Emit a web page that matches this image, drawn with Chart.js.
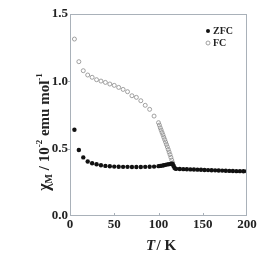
<!DOCTYPE html>
<html><head><meta charset="utf-8">
<script src="https://cdn.jsdelivr.net/npm/chart.js@4.4.0/dist/chart.umd.min.js"></script>
<style>html,body{margin:0;padding:0;background:#fff}#wrap{width:273px;height:259px}</style>
</head><body><div id="wrap"><canvas id="c" width="273" height="259"></canvas></div>
<script>
const zfcT = [5,10,15,20,25,30,35,40,45,50,55,60,65,70,75,80,85,90,95,100,102,104,106,108,110,112,114,115,116,117,118,119,120,124,128,132,136,140,144,148,152,156,160,164,168,172,176,180,184,188,192,196,200];
const zfcV = [0.64,0.49,0.435,0.405,0.392,0.384,0.377,0.372,0.369,0.367,0.366,0.365,0.365,0.364,0.364,0.364,0.365,0.366,0.367,0.370,0.372,0.374,0.377,0.380,0.383,0.385,0.387,0.388,0.386,0.372,0.358,0.352,0.350,0.349,0.348,0.347,0.346,0.345,0.344,0.343,0.342,0.341,0.340,0.339,0.338,0.337,0.336,0.335,0.334,0.333,0.333,0.332,0.332];
const fcT = [5,10,15,20,25,30,35,40,45,50,55,60,65,70,75,80,85,90,95,100,101,102,103,104,105,106,107,108,109,110,111,112,113,114,115,116,117];
const fcV = [1.314,1.146,1.079,1.047,1.03,1.012,1.002,0.992,0.98,0.97,0.955,0.94,0.923,0.893,0.881,0.856,0.822,0.792,0.742,0.693,0.675,0.655,0.638,0.62,0.603,0.585,0.567,0.549,0.531,0.513,0.494,0.475,0.456,0.436,0.415,0.395,0.375];
const xTicks = [0,50,100,150,200];
const yTicks = [0.0,0.5,1.0,1.5];
const seriesNames = ['ZFC','FC'];

const AX = '#a9b1b9';
const SERIF = '"Liberation Serif", "DejaVu Serif", serif';

const deco = {
  id:'deco',
  afterDraw(chart){
    const ctx = chart.ctx, a = chart.chartArea, x = chart.scales.x, y = chart.scales.y;
    ctx.save();
    ctx.strokeStyle = AX; ctx.lineWidth = 1;
    ctx.strokeRect(a.left+0.5, a.top+0.5, a.right-a.left-1, a.bottom-a.top-1);
    ctx.beginPath();
    xTicks.slice(1,-1).forEach(v=>{const px=Math.round(x.getPixelForValue(v))+0.5; ctx.moveTo(px,a.bottom); ctx.lineTo(px,a.bottom-3);});
    yTicks.slice(1,-1).forEach(v=>{const py=Math.round(y.getPixelForValue(v))+0.5; ctx.moveTo(a.left,py); ctx.lineTo(a.left-2,py);});
    ctx.stroke();
    // legend
    const ds = chart.data.datasets;
    ctx.font = 'bold 10px '+SERIF; ctx.textBaseline='middle'; ctx.textAlign='left';
    const ly = [31,43];
    ds.forEach((d,i)=>{
      ctx.beginPath(); ctx.arc(208, ly[i], 2, 0, Math.PI*2);
      if(d.pointStyleFill){ctx.fillStyle=d.pointBackgroundColor; ctx.fill();}
      else {ctx.strokeStyle=d.pointBorderColor; ctx.lineWidth=0.8; ctx.stroke();}
      ctx.fillStyle='#222'; ctx.fillText(d.label, 213, ly[i]+0.5);
    });
    // x title
    ctx.fillStyle='#222';
    ctx.font = 'italic bold 15px '+SERIF;
    const t1='T', t2='/ K';
    const w1=ctx.measureText(t1).width+1.5;
    ctx.font = 'bold 15px '+SERIF;
    const w2=ctx.measureText(t2).width;
    let sx = 161-(w1+w2)/2;
    ctx.textBaseline='alphabetic';
    ctx.font = 'italic bold 15px '+SERIF; ctx.fillText(t1,sx,250);
    ctx.font = 'bold 15px '+SERIF; ctx.fillText(t2,sx+w1,250);
    // y title
    const parts = [
      ['χ',16,0],['M',10,3],[' / 10',15,0],['-2',9,-7],[' emu mol',15,0],['-1',9,-7]
    ];
    ctx.translate(49,132); ctx.rotate(-Math.PI/2);
    let tw=0; parts.forEach(p=>{ctx.font='bold '+p[1]+'px '+SERIF; tw+=ctx.measureText(p[0]).width;});
    let cx=-tw/2;
    parts.forEach(p=>{ctx.font='bold '+p[1]+'px '+SERIF; ctx.fillText(p[0],cx,p[2]); cx+=ctx.measureText(p[0]).width;});
    ctx.restore();
  }
};

new Chart(document.getElementById('c'),{
  type:'scatter',
  data:{datasets:[
    {label:seriesNames[0], data:zfcT.map((t,i)=>({x:t,y:zfcV[i]})), pointRadius:2.2, pointBackgroundColor:'#111', pointBorderColor:'#111', pointBorderWidth:0, pointStyleFill:true, order:0},
    {label:seriesNames[1], data:fcT.map((t,i)=>({x:t,y:fcV[i]})), pointRadius:2, pointBackgroundColor:'rgba(255,255,255,0)', pointBorderColor:'#8a8a8a', pointBorderWidth:0.8, pointStyleFill:false, order:1}
  ]},
  options:{
    responsive:false, animation:false, events:[],
    layout:{padding:{left:0,right:26,top:14,bottom:0}},
    plugins:{legend:{display:false},tooltip:{enabled:false}},
    scales:{
      x:{type:'linear',min:0,max:200,
        afterBuildTicks(s){s.ticks=xTicks.map(v=>({value:v}));},
        afterFit(s){s.height=43;},
        grid:{display:false,drawTicks:false}, border:{display:false},
        ticks:{padding:1,color:'#222',font:{family:SERIF,weight:'bold',size:13},maxRotation:0,callback:v=>String(v)}},
      y:{type:'linear',min:0,max:1.5,
        afterBuildTicks(s){s.ticks=yTicks.map(v=>({value:v}));},
        afterFit(s){s.width=70;},
        grid:{display:false,drawTicks:false}, border:{display:false},
        ticks:{padding:2,color:'#222',font:{family:SERIF,weight:'bold',size:13},callback:v=>Number(v).toFixed(1)}}
    }
  },
  plugins:[deco]
});
</script></body></html>
